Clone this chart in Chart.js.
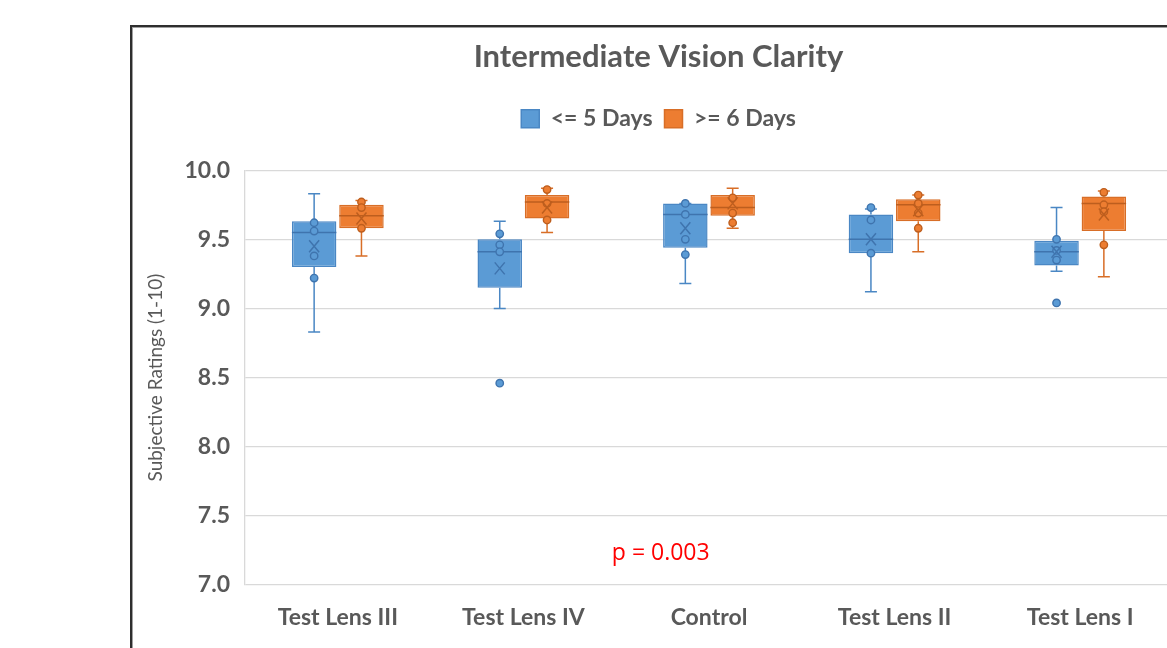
<!DOCTYPE html>
<html>
<head>
<meta charset="utf-8">
<script src="https://cdn.jsdelivr.net/npm/chart.js@4.4.1/dist/chart.umd.min.js"></script>
<style>
  html, body { margin: 0; padding: 0; background: #fff; overflow: hidden; width: 1167px; height: 648px; }
  #frame {
    position: absolute; left: 130px; top: 25px;
    width: 1050px; height: 623px;
    border-left: 2px solid #2e2e2e; border-top: 2px solid #2e2e2e;
    box-shadow: inset 1px 1px 0 #a0a0a0;
  }
  #wrap { position: absolute; left: 0; top: 0; width: 1050px; height: 621px; }
</style>
</head>
<body>
<div id="frame"><div id="wrap"><canvas id="boxChart"></canvas></div></div>
<script>
const categories = ['Test Lens III', 'Test Lens IV', 'Control', 'Test Lens II', 'Test Lens I'];
const seriesNames = ['<= 5 Days', '>= 6 Days'];
const yTicks = [7.0, 7.5, 8.0, 8.5, 9.0, 9.5, 10.0];

// <= 5 days
const earlyMin = [8.83, 9.00, 9.18, 9.12, 9.27];
const earlyQ1 = [9.30, 9.15, 9.44, 9.40, 9.31];
const earlyMedian = [9.55, 9.41, 9.68, 9.50, 9.41];
const earlyQ3 = [9.63, 9.50, 9.76, 9.68, 9.49];
const earlyMax = [9.83, 9.63, 9.76, 9.72, 9.73];
const earlyMean = [9.45, 9.29, 9.58, 9.50, 9.41];
const earlyPoints = [[9.62, 9.56, 9.38, 9.22], [9.54, 9.46, 9.41, 8.46], [9.76, 9.68, 9.50, 9.39], [9.73, 9.64, 9.40], [9.50, 9.42, 9.35, 9.04]];

// >= 6 days
const lateMin = [9.38, 9.55, 9.58, 9.41, 9.23];
const lateQ1 = [9.58, 9.65, 9.67, 9.63, 9.56];
const lateMedian = [9.67, 9.77, 9.73, 9.75, 9.76];
const lateQ3 = [9.75, 9.82, 9.82, 9.79, 9.81];
const lateMax = [9.78, 9.87, 9.87, 9.82, 9.85];
const lateMean = [9.65, 9.73, 9.76, 9.71, 9.68];
const latePoints = [[9.77, 9.73, 9.58], [9.86, 9.76, 9.64], [9.80, 9.69, 9.62], [9.82, 9.76, 9.69, 9.58], [9.84, 9.75, 9.70, 9.46]];

const pNote = 'p = 0.003';

const blueFill = '#5B9BD5', blueLine = '#4A87C4';
const orangeFill = '#ED7D31', orangeLine = '#D86E27';

const stats = [
    { min: earlyMin, q1: earlyQ1, med: earlyMedian, q3: earlyQ3, max: earlyMax, mean: earlyMean, pts: earlyPoints, fill: blueFill, line: blueLine, dark: '#3F74AE' },
    { min: lateMin, q1: lateQ1, med: lateMedian, q3: lateQ3, max: lateMax, mean: lateMean, pts: latePoints, fill: orangeFill, line: orangeLine, dark: '#BD5E1E' }
];

// extra room under the legend, and title/legend nudged right like the original
const headerTweak = {
    id: 'headerTweak',
    afterInit(chart) {
        const lg = chart.legend;
        const fit = lg.fit;
        lg.fit = function () { fit.call(this); this.height += 30; };
    },
    afterLayout(chart) {
        [chart.titleBlock, chart.legend].forEach(b => {
            if (!b) return;
            b.left += 6; b.right += 6;
            if (b.legendHitBoxes) b.legendHitBoxes.forEach(h => { h.left += 6; });
        });
    }
};

const boxPlot = {
    id: 'boxPlot',
    afterDatasetsDraw(chart) {
        const ctx = chart.ctx;
        const ys = chart.scales.y;
        const py = v => ys.getPixelForValue(v);
        stats.forEach((s, i) => {
            chart.getDatasetMeta(i).data.forEach((bar, j) => {
                const x = bar.x, half = bar.width / 2;
                ctx.save();
                ctx.strokeStyle = s.line;
                ctx.lineWidth = 1.5;
                ctx.beginPath();
                // whiskers
                ctx.moveTo(x, py(s.max[j])); ctx.lineTo(x, py(s.q3[j]));
                ctx.moveTo(x, py(s.q1[j])); ctx.lineTo(x, py(s.min[j]));
                ctx.moveTo(x - 6, py(s.max[j])); ctx.lineTo(x + 6, py(s.max[j]));
                ctx.moveTo(x - 6, py(s.min[j])); ctx.lineTo(x + 6, py(s.min[j]));
                ctx.stroke();
                // median
                ctx.strokeStyle = s.dark;
                ctx.beginPath();
                ctx.moveTo(x - half, py(s.med[j])); ctx.lineTo(x + half, py(s.med[j]));
                ctx.stroke();
                // data points
                ctx.fillStyle = s.fill;
                ctx.lineWidth = 1.4;
                s.pts[j].forEach(v => {
                    ctx.beginPath();
                    ctx.arc(x, py(v), 3.7, 0, Math.PI * 2);
                    ctx.fill();
                    ctx.stroke();
                });
                // mean marker
                const my = py(s.mean[j]);
                ctx.lineWidth = 1.5;
                ctx.beginPath();
                ctx.moveTo(x - 5, my - 6); ctx.lineTo(x + 5, my + 6);
                ctx.moveTo(x + 5, my - 6); ctx.lineTo(x - 5, my + 6);
                ctx.stroke();
                ctx.restore();
            });
        });
        // p-value note
        const xs = chart.scales.x;
        const nx = xs.getPixelForValue(1) + 0.74 * (xs.getPixelForValue(2) - xs.getPixelForValue(1));
        ctx.save();
        ctx.fillStyle = '#FF0000';
        ctx.font = '23px "Open Sans", sans-serif';
        ctx.textAlign = 'center';
        ctx.textBaseline = 'middle';
        ctx.fillText(pNote, nx, py(7.23));
        ctx.restore();
    }
};

const boxData = {
    labels: categories,
    datasets: [
        {
            label: seriesNames[0],
            data: earlyQ1.map((v, k) => [v, earlyQ3[k]]),
            backgroundColor: blueFill,
            borderColor: blueLine,
            borderWidth: 1.5,
            borderSkipped: false
        },
        {
            label: seriesNames[1],
            data: lateQ1.map((v, k) => [v, lateQ3[k]]),
            backgroundColor: orangeFill,
            borderColor: orangeLine,
            borderWidth: 1.5,
            borderSkipped: false
        }
    ]
};

const ctx = document.getElementById('boxChart').getContext('2d');
const boxChart = new Chart(ctx, {
    type: 'bar',
    data: boxData,
    plugins: [headerTweak, boxPlot],
    options: {
        responsive: true,
        maintainAspectRatio: false,
        animation: false,
        categoryPercentage: 0.51,
        barPercentage: 0.94,
        layout: { padding: { left: 0, right: 9, top: 0, bottom: 0 } },
        plugins: {
            tooltip: { enabled: false },
            title: {
                display: true,
                text: 'Intermediate Vision Clarity',
                color: '#595959',
                font: { family: 'Lato', size: 31, weight: 'bold' },
                padding: { top: 11, bottom: 20 }
            },
            legend: {
                display: true,
                labels: {
                    color: '#595959',
                    font: { family: 'Lato', size: 23, weight: 'bold' },
                    boxWidth: 18,
                    boxHeight: 18,
                    padding: 12
                }
            }
        },
        scales: {
            x: {
                grid: { display: false, drawTicks: false },
                border: { display: false },
                ticks: {
                    color: '#595959',
                    font: { family: 'Lato', size: 23, weight: 'bold' },
                    padding: 19
                },
                afterFit: s => { s.height = 63; }
            },
            y: {
                min: 7,
                max: 10,
                afterBuildTicks: s => { s.ticks = yTicks.map(v => ({ value: v })); },
                afterFit: s => { s.width = 113; },
                grid: { color: '#D9D9D9', lineWidth: 1.3, drawTicks: false },
                border: { display: true, color: '#D9D9D9', width: 1.3 },
                ticks: {
                    color: '#595959',
                    font: { family: 'Lato', size: 23, weight: 'bold' },
                    padding: 15,
                    callback: v => Number(v).toFixed(1)
                },
                title: {
                    display: true,
                    text: 'Subjective Ratings (1-10)',
                    color: '#595959',
                    font: { family: 'Lato', size: 19 },
                    padding: { top: 12, bottom: 0 }
                }
            }
        }
    }
});
</script>
</body>
</html>
